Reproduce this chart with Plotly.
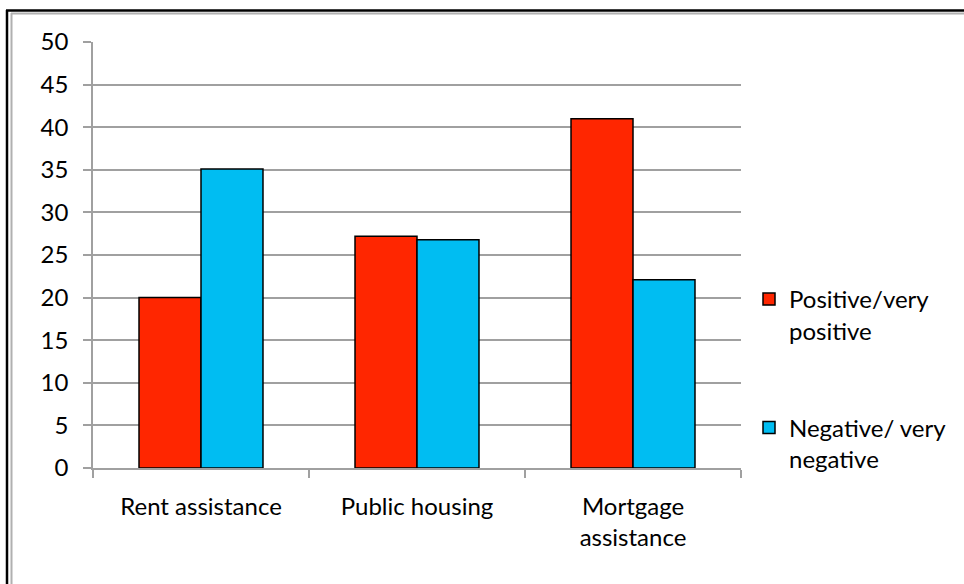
import plotly.graph_objects as go

categories = ["Rent assistance", "Public housing", "Mortgage<br>assistance"]
positive = [20.0, 27.2, 41.0]
negative = [35.1, 26.8, 22.1]
series_names = ["Positive/very<br>positive", "Negative/ very<br>negative"]
y_ticks = [0, 5, 10, 15, 20, 25, 30, 35, 40, 45, 50]

W, H = 964, 584
L, R, T, B = 93, 223, 42, 116
FONT = "Lato, 'Open Sans', sans-serif"

fig = go.Figure()
fig.add_trace(go.Bar(x=categories, y=positive, name=series_names[0],
                     marker=dict(color="#FF2600", line=dict(color="#000000", width=1.5)),
                     legendgroup="a"))
fig.add_trace(go.Bar(x=categories, y=negative, name=series_names[1],
                     marker=dict(color="#00BDF2", line=dict(color="#000000", width=1.5)),
                     legendgroup="b"))

pw, ph = W - L - R, H - T - B
def px(x):
    return (x - L) / pw
def py(y):
    return (H - B - y) / ph

shapes = [
    dict(type="line", xref="paper", yref="paper", x0=px(7), x1=px(7), y0=py(10), y1=py(600),
         line=dict(color="#000000", width=2.5)),
    dict(type="line", xref="paper", yref="paper", x0=px(6), x1=px(980), y0=py(10.5), y1=py(10.5),
         line=dict(color="#000000", width=2.5)),
    dict(type="line", xref="paper", yref="paper", x0=px(11.5), x1=px(11.5), y0=py(13), y1=py(600),
         line=dict(color="#b0b0b0", width=2)),
    dict(type="line", xref="paper", yref="paper", x0=px(11), x1=px(980), y0=py(13.5), y1=py(13.5),
         line=dict(color="#b0b0b0", width=2)),
]

fig.update_layout(
    width=W, height=H,
    margin=dict(l=L, r=R, t=T, b=B, autoexpand=False),
    paper_bgcolor="white", plot_bgcolor="white",
    barmode="group", bargap=0.426, bargroupgap=0,
    font=dict(family=FONT, size=24, color="#000000"),
    showlegend=True,
    legend=dict(x=px(749), xanchor="left", y=py(277), yanchor="top",
                valign="top", tracegroupgap=63, font=dict(size=24),
                bgcolor="rgba(0,0,0,0)", itemwidth=30),
    shapes=shapes,
    xaxis=dict(showgrid=False, showline=True, linecolor="#a0a0a0", linewidth=1.5,
               ticks="outside", ticklen=8, tickcolor="#a0a0a0", tickwidth=1.5,
               tickson="boundaries", ticklabelstandoff=16),
    yaxis=dict(range=[0, 50], tickvals=y_ticks, showgrid=True, gridcolor="#a0a0a0",
               gridwidth=1.5, showline=True, linecolor="#a0a0a0", linewidth=1.5,
               ticks="outside", ticklen=8, tickcolor="#a0a0a0", tickwidth=1.5,
               zeroline=False, ticklabelstandoff=10),
)

fig.write_html("out.html")
